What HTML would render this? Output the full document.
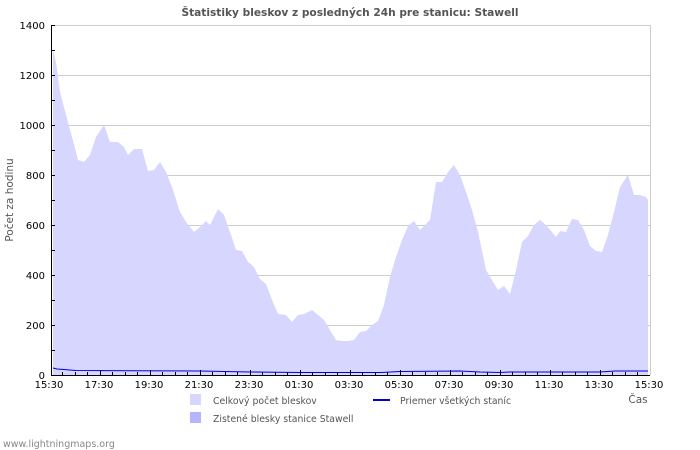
<!DOCTYPE html><html><head><meta charset="utf-8"><style>body{margin:0;background:#fff}svg{display:block;font-family:"DejaVu Sans","Liberation Sans",sans-serif}</style></head><body>
<svg width="700" height="450" viewBox="0 0 700 450">
<text x="350" y="16" text-anchor="middle" font-size="10.6" font-weight="bold" fill="#555">Štatistiky bleskov z posledných 24h pre stanicu: Stawell</text>
<g stroke="#ccc" stroke-width="1">
<line x1="51" y1="25.5" x2="650" y2="25.5"/><line x1="51" y1="75.5" x2="650" y2="75.5"/><line x1="51" y1="125.5" x2="650" y2="125.5"/><line x1="51" y1="175.5" x2="650" y2="175.5"/><line x1="51" y1="225.5" x2="650" y2="225.5"/><line x1="51" y1="275.5" x2="650" y2="275.5"/><line x1="51" y1="325.5" x2="650" y2="325.5"/>
<line x1="650.5" y1="25" x2="650.5" y2="375"/>
</g>
<polygon fill="#d6d6ff" points="53,375 53,50 56,62 60,92 66,115 72,137 78,160 84,162 90,155 96,137 104,125 110,142 118,142 124,147 128,155 134,149 142,149 148,171 154,170 160,162 166,172 172,187 180,212 186,222 194,232 200,227 206,221 210,225 218,209 224,215 230,232 236,250 242,251 248,262 254,267 260,279 266,284 272,300 278,314 286,315 292,322 298,315 304,314 312,310 318,315 324,320 330,330 336,340 342,341 348,341 354,340 360,332 366,331 372,325 378,321 384,305 390,277 396,257 402,240 408,226 414,221 420,230 426,224 430,220 436,182 442,182 448,172 454,165 460,175 466,192 472,210 478,232 486,270 492,280 498,290 504,286 510,294 516,270 522,242 528,236 534,225 540,220 546,225 552,232 556,237 560,231 566,232 572,219 578,220 584,230 590,246 596,251 602,252 608,235 614,212 620,187 628,175 634,195 640,195 646,197 648,200 648,375"/>
<polyline fill="none" stroke="#0000dd" stroke-width="1" points="53,368 57,369 64,369.5 76,370.5 200,371 250,372 300,372.5 380,372.5 400,371.5 460,371 480,372 500,372.5 510,372 600,372 615,371 648,371"/>
<g stroke="#000" stroke-width="1">
<line x1="51.5" y1="25" x2="51.5" y2="375"/>
<line x1="51" y1="375.5" x2="650" y2="375.5"/>
</g>
<g stroke="#000" stroke-width="1">
<line x1="51" y1="25.5" x2="55" y2="25.5"/><line x1="51" y1="50.5" x2="55" y2="50.5"/><line x1="51" y1="75.5" x2="55" y2="75.5"/><line x1="51" y1="100.5" x2="55" y2="100.5"/><line x1="51" y1="125.5" x2="55" y2="125.5"/><line x1="51" y1="150.5" x2="55" y2="150.5"/><line x1="51" y1="175.5" x2="55" y2="175.5"/><line x1="51" y1="200.5" x2="55" y2="200.5"/><line x1="51" y1="225.5" x2="55" y2="225.5"/><line x1="51" y1="250.5" x2="55" y2="250.5"/><line x1="51" y1="275.5" x2="55" y2="275.5"/><line x1="51" y1="300.5" x2="55" y2="300.5"/><line x1="51" y1="325.5" x2="55" y2="325.5"/><line x1="51" y1="350.5" x2="55" y2="350.5"/>
</g>
<g stroke="#000" stroke-width="1">
<path d="M62.5 375v-3M75.5 375v-3M87.5 375v-3M100.5 375v-5M112.5 375v-3M125.5 375v-3M137.5 375v-3M150.5 375v-5M162.5 375v-3M175.5 375v-3M187.5 375v-3M200.5 375v-5M212.5 375v-3M225.5 375v-3M237.5 375v-3M250.5 375v-5M262.5 375v-3M275.5 375v-3M287.5 375v-3M300.5 375v-5M312.5 375v-3M325.5 375v-3M337.5 375v-3M350.5 375v-5M362.5 375v-3M375.5 375v-3M387.5 375v-3M400.5 375v-5M412.5 375v-3M425.5 375v-3M437.5 375v-3M450.5 375v-5M462.5 375v-3M475.5 375v-3M487.5 375v-3M500.5 375v-5M512.5 375v-3M525.5 375v-3M537.5 375v-3M550.5 375v-5M562.5 375v-3M575.5 375v-3M587.5 375v-3M600.5 375v-5M612.5 375v-3M625.5 375v-3M637.5 375v-3"/>
</g>
<g font-size="10" fill="#000" text-anchor="end">
<text x="45" y="29">1400</text><text x="45" y="79">1200</text><text x="45" y="129">1000</text><text x="45" y="179">800</text><text x="45" y="229">600</text><text x="45" y="279">400</text><text x="45" y="329">200</text><text x="45" y="379">0</text>
</g>
<g font-size="10" fill="#000" text-anchor="middle">
<text x="49" y="388">15:30</text><text x="99" y="388">17:30</text><text x="149" y="388">19:30</text><text x="199" y="388">21:30</text><text x="249" y="388">23:30</text><text x="299" y="388">01:30</text><text x="349" y="388">03:30</text><text x="399" y="388">05:30</text><text x="449" y="388">07:30</text><text x="499" y="388">09:30</text><text x="549" y="388">11:30</text><text x="599" y="388">13:30</text><text x="649" y="388">15:30</text>
</g>
<text x="13" y="200" font-size="10.5" fill="#555" text-anchor="middle" transform="rotate(-90 13 200)">Počet za hodinu</text>
<text x="638" y="403" font-size="10.5" fill="#555" text-anchor="middle">Čas</text>
<rect x="190" y="394" width="11" height="11" fill="#d6d6ff"/>
<rect x="190" y="412" width="11" height="11" fill="#b4b4ff"/>
<text x="213" y="404" font-size="9.3" fill="#555">Celkový počet bleskov</text>
<text x="213" y="422" font-size="9.3" fill="#555">Zistené blesky stanice Stawell</text>
<line x1="373" y1="400" x2="390" y2="400" stroke="#0000dd" stroke-width="2"/>
<text x="400" y="404" font-size="9.3" fill="#555">Priemer všetkých staníc</text>
<text x="3" y="447" font-size="9.5" fill="#888">www.lightningmaps.org</text>
</svg></body></html>
